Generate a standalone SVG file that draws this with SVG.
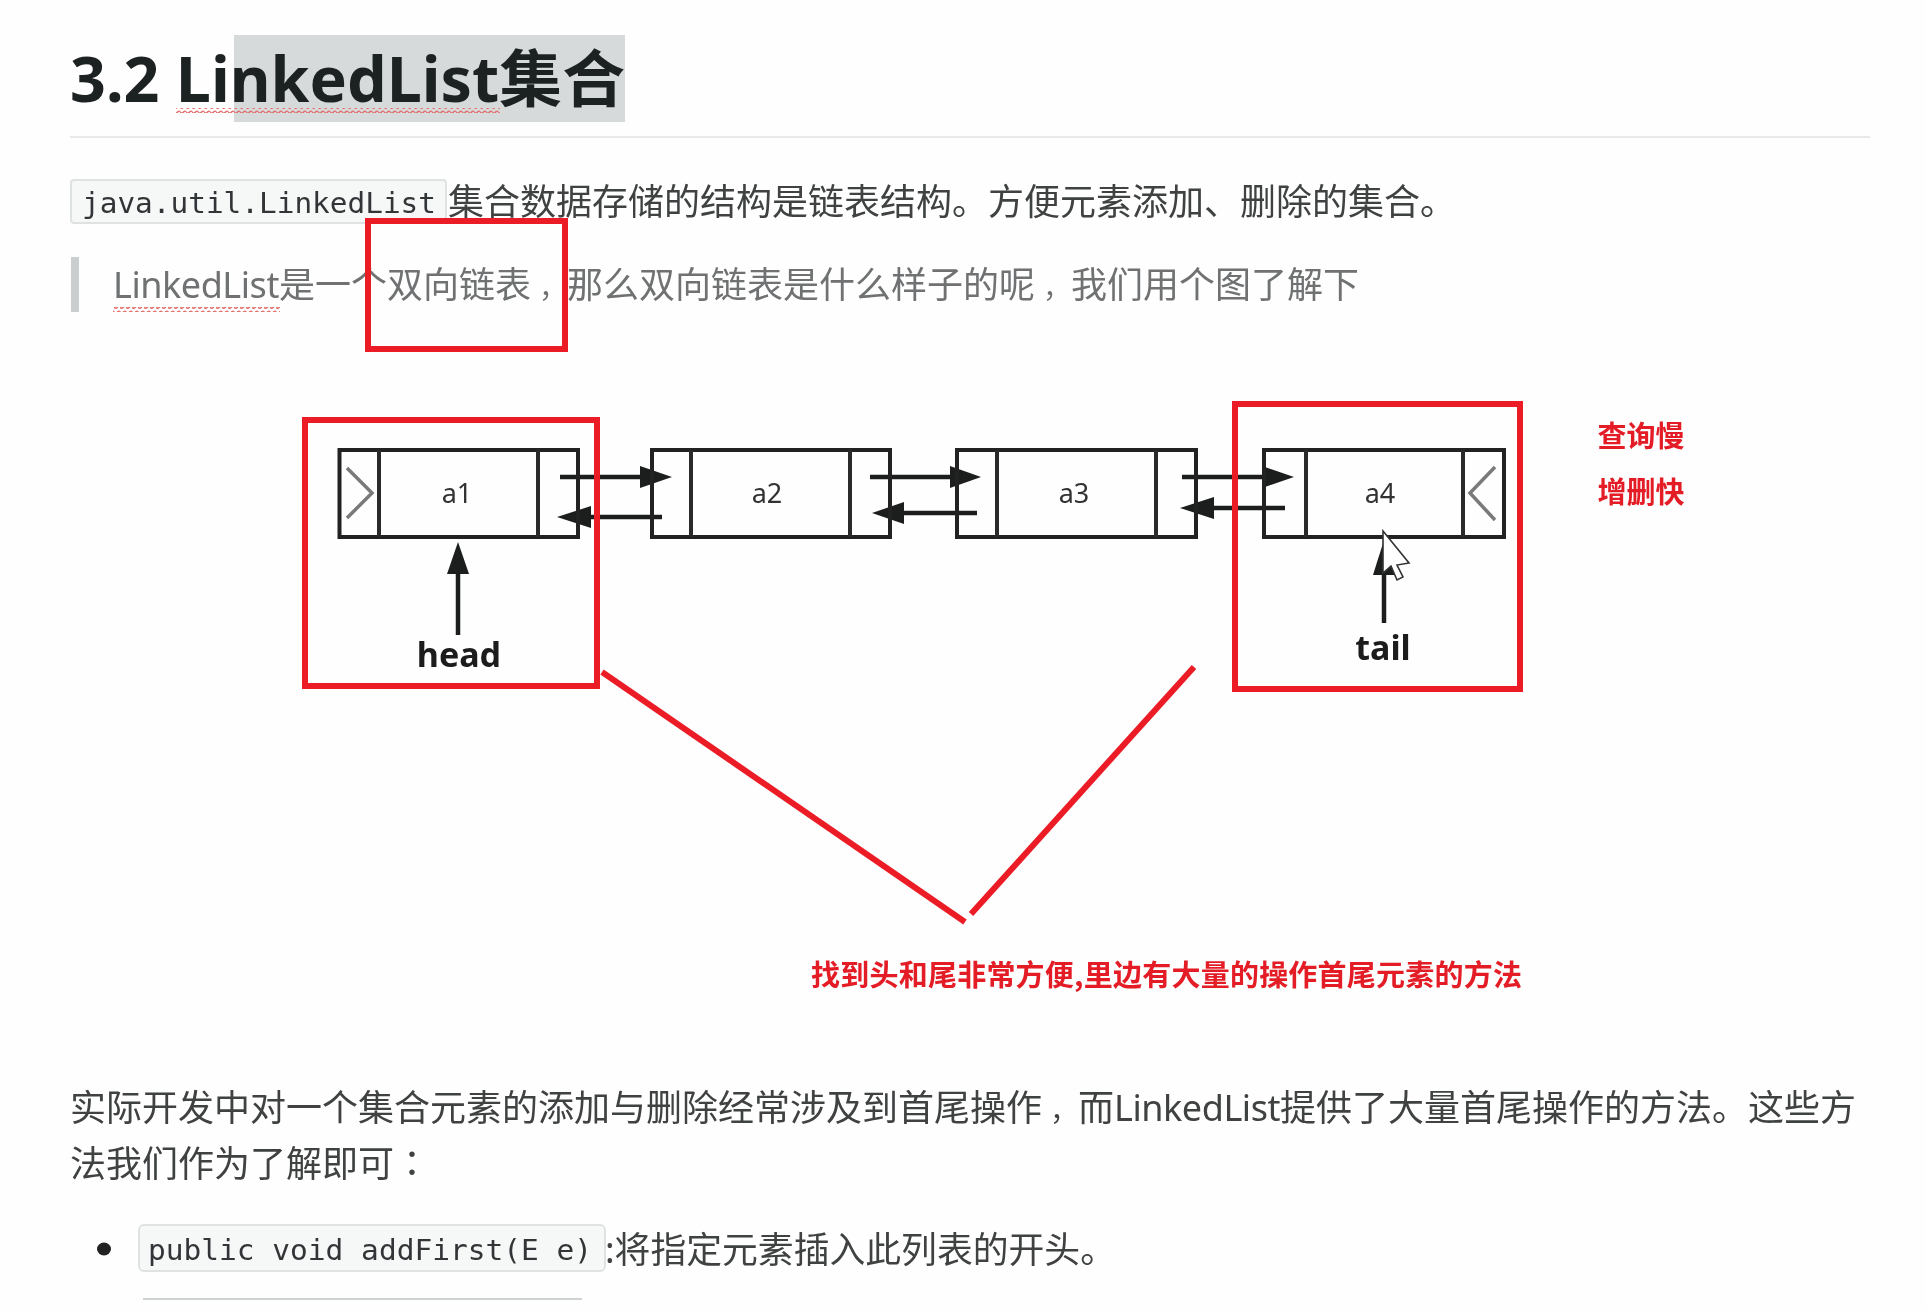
<svg xmlns="http://www.w3.org/2000/svg" width="1926" height="1310" viewBox="0 0 1926 1310">
<defs>
<filter id="soft" x="-5%" y="-20%" width="110%" height="140%"><feGaussianBlur stdDeviation="0.6"/></filter>
<pattern id="wave" width="6" height="5" patternUnits="userSpaceOnUse"><path d="M0 1.500Q1.500 4.500 3 2.500T6 1.500" fill="none" stroke="#e56a6a" stroke-width="1.500"/></pattern>
</defs>
<style>
text{filter:url(#soft)}
.t{font-family:"Noto Sans","Noto Sans CJK SC",sans-serif}
.cjk{font-family:"Noto Sans","Noto Sans CJK SC",sans-serif;font-size:36px;fill:#3f4243}
.tc{font-family:"Noto Sans CJK TC",sans-serif}
.cm{font-size:28px}
.ll{letter-spacing:-0.450px}
.mono{font-family:"DejaVu Sans Mono",monospace;font-size:28px;fill:#333637}
.red{fill:none;stroke:#ec1c26;stroke-width:6}
.n{fill:none;stroke:#222;stroke-width:4}
.d{stroke:#2a2a2a;stroke-width:4}
.a{stroke:#1c1e1e;stroke-width:4.500;fill:none}
.h{fill:#1c1e1e}
.chev{fill:none;stroke:#7a7a7a;stroke-width:3.500}
.lbl{font-family:"Noto Sans",sans-serif;font-size:27px;fill:#333;text-anchor:middle}
.b{font-family:"Noto Sans",sans-serif;font-size:34px;font-weight:700;fill:#1c1c1c;text-anchor:middle}
.rt{font-family:"Noto Sans CJK SC",sans-serif;font-weight:700;fill:#e31b26}
</style>
<rect width="1926" height="1310" fill="#fdfefd"/>

<g id="heading">
<rect x="234" y="35" width="391" height="87" fill="#d6dadb"/>
<text class="t" x="70" y="102" font-size="62" font-weight="700" fill="#1f2122" textLength="555" lengthAdjust="spacingAndGlyphs">3.2 LinkedList集合</text>
<rect x="176" y="108" width="324" height="5" fill="url(#wave)"/>
<line x1="70" y1="137" x2="1870" y2="137" stroke="#e8e9e9" stroke-width="2"/>
</g>

<g id="intro">
<rect x="71" y="180" width="375" height="43" rx="3" fill="#f6f7f7" stroke="#dfe2e3" stroke-width="2"/>
<text class="mono" x="82" y="213" textLength="354" lengthAdjust="spacingAndGlyphs">java.util.LinkedList</text>
<text class="cjk" x="448" y="215" textLength="1008" lengthAdjust="spacingAndGlyphs">集合数据存储的结构是链表结构。方便元素添加、删除的集合。</text>
</g>

<g id="quote">
<rect x="71" y="257" width="8" height="55" fill="#cbcecf"/>
<text class="cjk" x="113" y="298" style="fill:#6f7172"><tspan class="ll">LinkedList</tspan>是一个双向链表<tspan class="cm" dx="8">，</tspan>那么双向链表是什么样子的呢<tspan class="cm" dx="8">，</tspan>我们用个图了解下</text>
<rect x="113" y="307" width="167" height="5" fill="url(#wave)"/>
</g>

<g id="connectors">
<line class="a" x1="560" y1="477" x2="645" y2="477"/><polygon class="h" points="672,477 640,466 640,488"/>
<line class="a" x1="662" y1="517" x2="585" y2="517"/><polygon class="h" points="557,517 591,506 591,528"/>
<line class="a" x1="870" y1="477" x2="955" y2="477"/><polygon class="h" points="981,477 950,466 950,488"/>
<line class="a" x1="977" y1="513" x2="900" y2="513"/><polygon class="h" points="872,513 904,502 904,524"/>
<line class="a" x1="1182" y1="477" x2="1265" y2="477"/><polygon class="h" points="1294,477 1262,466 1262,488"/>
<line class="a" x1="1285" y1="508" x2="1210" y2="508"/><polygon class="h" points="1180,508 1214,497 1214,519"/>
<line class="a" x1="458" y1="635" x2="458" y2="570"/><polygon class="h" points="458,542 447,574 469,574"/>
<line class="a" x1="1384" y1="623" x2="1384" y2="570"/><polygon class="h" points="1384,540 1373,575 1395,575"/>
</g>

<g id="node-a1">
<rect class="n" x="339.500" y="450" width="238.500" height="87"/>
<line class="d" x1="379" y1="450" x2="379" y2="537"/><line class="d" x1="538" y1="450" x2="538" y2="537"/>
<polyline class="chev" points="347,468 372,493 347,518"/>
<text class="lbl" x="457" y="503">a1</text>
</g>
<g id="node-a2">
<rect class="n" x="652" y="450" width="238" height="87"/>
<line class="d" x1="691" y1="450" x2="691" y2="537"/><line class="d" x1="850" y1="450" x2="850" y2="537"/>
<text class="lbl" x="767" y="503">a2</text>
</g>
<g id="node-a3">
<rect class="n" x="957" y="450" width="239" height="87"/>
<line class="d" x1="997" y1="450" x2="997" y2="537"/><line class="d" x1="1156" y1="450" x2="1156" y2="537"/>
<text class="lbl" x="1074" y="503">a3</text>
</g>
<g id="node-a4">
<rect class="n" x="1264" y="450" width="240" height="87"/>
<line class="d" x1="1306" y1="450" x2="1306" y2="537"/><line class="d" x1="1463" y1="450" x2="1463" y2="537"/>
<polyline class="chev" points="1495,467 1470,493 1495,520"/>
<text class="lbl" x="1380" y="503">a4</text>
</g>
<g id="head-label"><text class="b" x="459" y="667">head</text></g>
<g id="tail-label"><text class="b" x="1383" y="660">tail</text></g>

<g id="cursor">
<path d="M1383 531V573L1391 566L1397 580L1403 577L1397 565L1409 563Z" fill="#fff" stroke="#333" stroke-width="1.600"/>
</g>

<g id="annotations">
<rect class="red" x="368" y="221" width="197" height="128"/>
<rect class="red" x="305" y="420" width="292" height="266"/>
<rect class="red" x="1235" y="404" width="285" height="285"/>
<line class="red" x1="602" y1="672" x2="965" y2="922"/>
<line class="red" x1="971" y1="914" x2="1194" y2="667"/>
<text class="rt" x="1641" y="447" font-size="29" text-anchor="middle">查询慢</text>
<text class="rt" x="1641" y="503" font-size="29" text-anchor="middle">增删快</text>
<text class="rt" x="811" y="986" font-size="29" textLength="711">找到头和尾非常方便,里边有大量的操作首尾元素的方法</text>
</g>

<g id="body">
<text class="cjk" x="70" y="1121">实际开发中对一个集合元素的添加与删除经常涉及到首尾操作<tspan class="cm" dx="8">，</tspan>而<tspan class="ll">LinkedList</tspan>提供了大量首尾操作的方法。这些方</text>
<text class="cjk" x="70" y="1177">法我们作为了解即可<tspan class="tc">：</tspan></text>
</g>

<g id="list">
<ellipse cx="104" cy="1249" rx="7" ry="6.500" fill="#222"/>
<rect x="139" y="1225" width="466" height="46" rx="5" fill="#f6f7f7" stroke="#dfe2e3" stroke-width="2"/>
<text class="mono" x="148" y="1260" textLength="444" lengthAdjust="spacingAndGlyphs">public void addFirst(E e)</text>
<text class="cjk" x="605" y="1263" textLength="511" lengthAdjust="spacingAndGlyphs">:将指定元素插入此列表的开头。</text>
<line x1="143" y1="1299" x2="582" y2="1299" stroke="#cfd2d3" stroke-width="2"/>
</g>
</svg>
